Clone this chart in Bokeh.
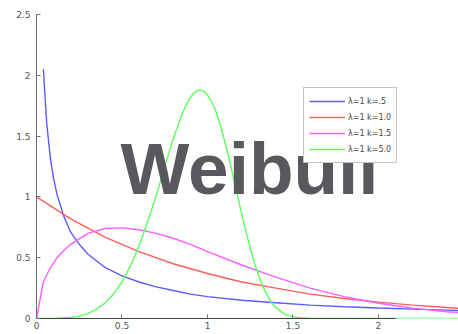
from bokeh.plotting import figure
from bokeh.models import Label, Legend, FixedTicker, CustomJSTickFormatter, Range1d
from bokeh.embed import file_html
from bokeh.resources import INLINE

# Values (Weibull pdfs, lambda = 1)
x_k05 = [0.04, 0.06, 0.08, 0.1, 0.12, 0.16, 0.2, 0.25, 0.3, 0.4, 0.5, 0.6, 0.7, 0.8, 0.9, 1.0,
         1.2, 1.4, 1.6, 1.8, 2.0, 2.2, 2.4, 2.5]
y_k05 = [2.05, 1.60, 1.33, 1.15, 1.02, 0.84, 0.71, 0.61, 0.53, 0.42, 0.35, 0.30, 0.26, 0.23, 0.20, 0.18,
         0.15, 0.13, 0.11, 0.097, 0.086, 0.077, 0.069, 0.065]

x_k10 = [0.0, 0.2, 0.4, 0.6, 0.8, 1.0, 1.2, 1.4, 1.6, 1.8, 2.0, 2.2, 2.4, 2.5]
y_k10 = [1.0, 0.82, 0.67, 0.55, 0.45, 0.37, 0.30, 0.25, 0.20, 0.165, 0.135, 0.11, 0.09, 0.082]

x_k15 = [0.0, 0.04, 0.08, 0.12, 0.16, 0.2, 0.3, 0.4, 0.5, 0.6, 0.7, 0.8, 0.9, 1.0,
         1.2, 1.4, 1.6, 1.8, 2.0, 2.2, 2.4, 2.5]
y_k15 = [0.0, 0.30, 0.415, 0.50, 0.56, 0.61, 0.70, 0.74, 0.745, 0.73, 0.70, 0.66, 0.61, 0.55,
         0.44, 0.34, 0.25, 0.18, 0.125, 0.085, 0.056, 0.046]

x_k50 = [0.0, 0.1, 0.2, 0.25, 0.3, 0.35, 0.4, 0.45, 0.5, 0.55, 0.575, 0.6, 0.625, 0.65, 0.675,
         0.7, 0.725, 0.75, 0.775, 0.8, 0.825, 0.85, 0.875, 0.9, 0.925, 0.95, 0.975, 1.0,
         1.025, 1.05, 1.075, 1.1, 1.125, 1.15, 1.175, 1.2, 1.225, 1.25, 1.275, 1.3, 1.325,
         1.35, 1.375, 1.4, 1.45, 1.5, 1.6, 2.0, 2.5]
y_k50 = [0.0, 0.0005, 0.008, 0.0195, 0.04, 0.075, 0.127, 0.201, 0.30, 0.435, 0.513, 0.60, 0.694, 0.795, 0.902,
         1.01, 1.13, 1.248, 1.364, 1.48, 1.58, 1.675, 1.755, 1.82, 1.86, 1.88, 1.872, 1.84,
         1.78, 1.70, 1.589, 1.46, 1.321, 1.17, 1.015, 0.86, 0.714, 0.58, 0.455, 0.35, 0.26,
         0.19, 0.131, 0.089, 0.036, 0.013, 0.0, 0.0, 0.0]

labels = ["\u03bb=1 k=.5", "\u03bb=1 k=1.0", "\u03bb=1 k=1.5", "\u03bb=1 k=5.0"]
x_ticks = [0, 0.5, 1, 1.5, 2, 2.5]
y_ticks = [0, 0.5, 1, 1.5, 2, 2.5]
title_text = "Weibull"

p = figure(width=458, height=334, output_backend="svg", toolbar_location=None,
           x_range=Range1d(0, 2.468), y_range=Range1d(0, 2.5),
           min_border_left=36, min_border_right=0, min_border_top=14, min_border_bottom=16)
p.outline_line_color = None
p.xgrid.visible = False
p.ygrid.visible = False
p.background_fill_color = "white"
p.border_fill_color = "white"

colors = ["#5c5cff", "#ff5c5c", "#ff5cff", "#5cff5c"]
series = [(x_k05, y_k05), (x_k10, y_k10), (x_k15, y_k15), (x_k50, y_k50)]
renderers = []
for (xs, ys), c in zip(series, colors):
    r = p.line(xs, ys, line_color=c, line_width=1.4)
    renderers.append(r)

for ax, ticks in ((p.xaxis[0], x_ticks), (p.yaxis[0], y_ticks)):
    ax.ticker = FixedTicker(ticks=ticks)
    ax.formatter = CustomJSTickFormatter(code="return tick.toString();")
    ax.axis_line_color = "#6e6e6e"
    ax.major_tick_line_color = "#6e6e6e"
    ax.minor_tick_line_color = None
    ax.major_tick_in = 4
    ax.major_tick_out = 0
    ax.major_label_text_font = "DejaVu Sans"
    ax.major_label_text_font_size = "9px"
    ax.major_label_text_color = "#555555"
p.xaxis[0].major_label_standoff = 3
p.xaxis[0].bounds = (0, 2.1)
p.xaxis[0].axis_line_color = "#404040"
p.yaxis[0].major_label_standoff = 6

legend = Legend(items=[(lab, [r]) for lab, r in zip(labels, renderers)],
                location=(267, 155))
legend.margin = 0
legend.padding = 5
legend.spacing = 0
legend.glyph_width = 36
legend.glyph_height = 16
legend.label_height = 16
legend.label_standoff = 3
legend.label_text_font = "DejaVu Sans"
legend.label_text_font_size = "8px"
legend.label_text_color = "#444444"
legend.border_line_color = "#8a8a8a"
legend.border_line_width = 1
legend.background_fill_color = "white"
legend.background_fill_alpha = 1.0
p.add_layout(legend, "center")

lbl = Label(x=1.246, y=1.235, text=title_text, text_font="Liberation Sans",
            text_font_style="bold", text_font_size="73px", text_color="#58595c",
            text_align="center", text_baseline="alphabetic", level="overlay")
p.add_layout(lbl)

open("out.html", "w").write(file_html(p, INLINE))
